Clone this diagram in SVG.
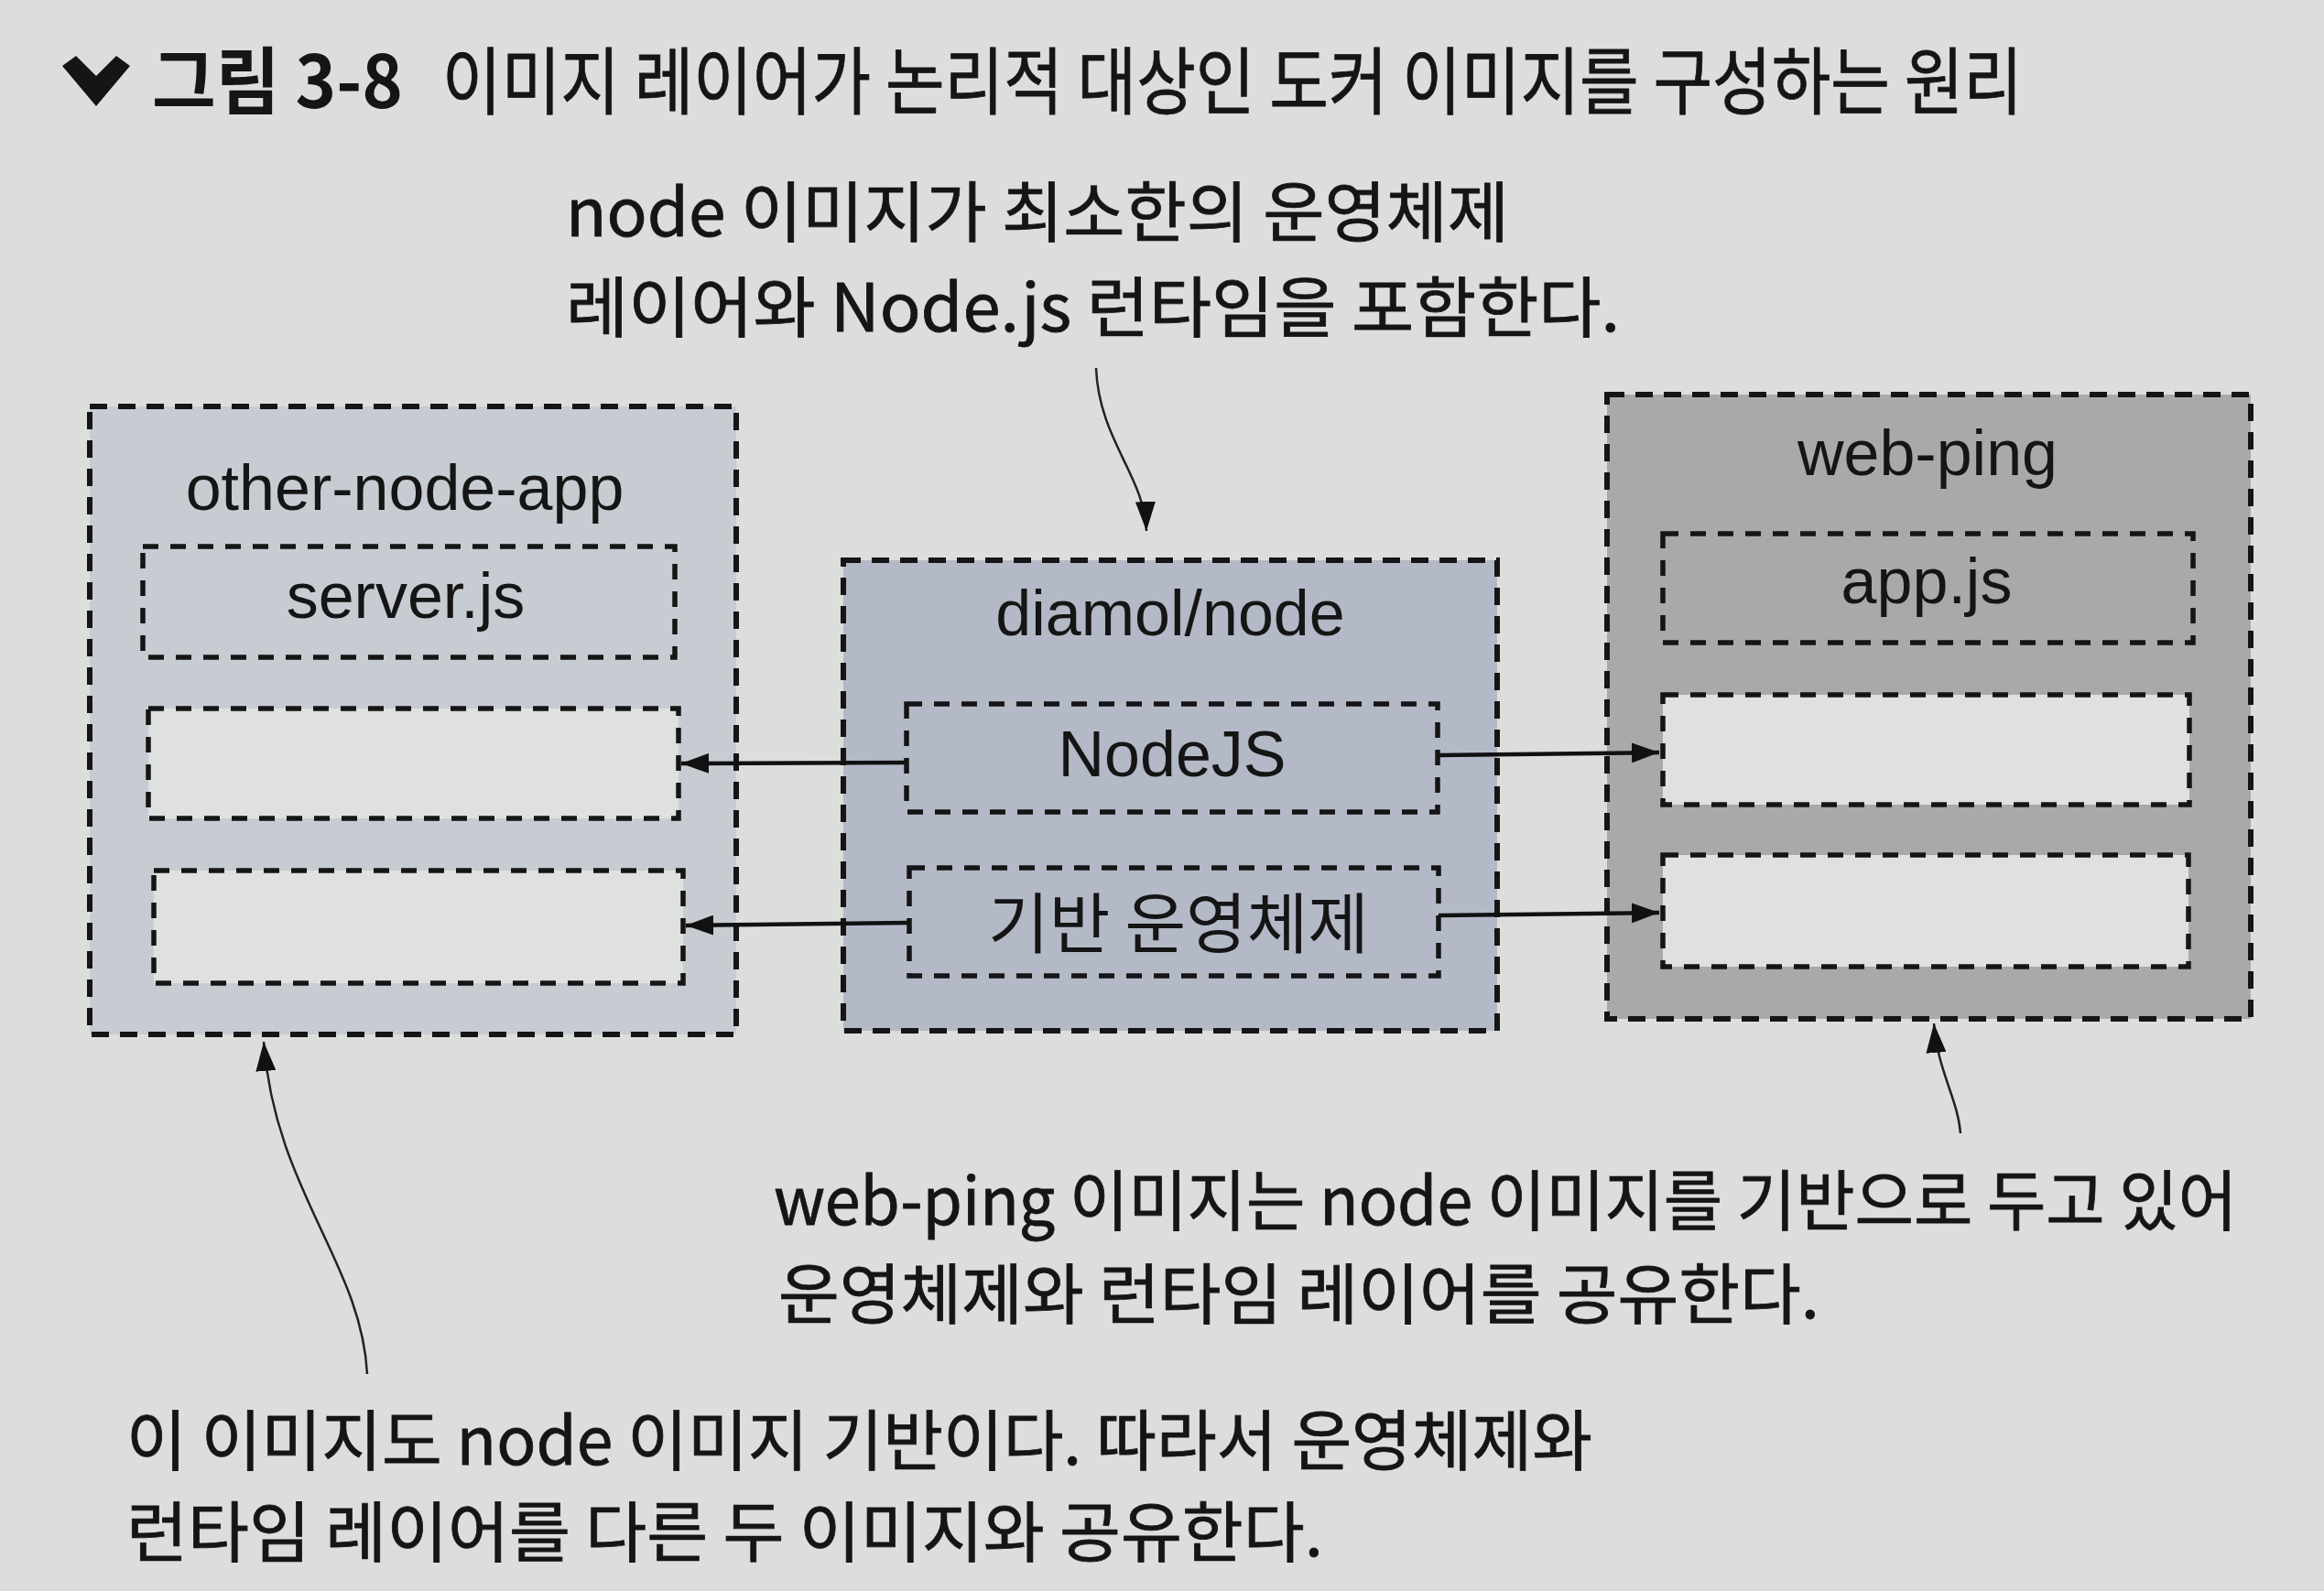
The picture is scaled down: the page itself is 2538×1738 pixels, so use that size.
<svg xmlns="http://www.w3.org/2000/svg" width="2538" height="1738" viewBox="0 0 2538 1738">
  <defs>
    <style>
      .lbl { font-family: "Liberation Sans", Arial, sans-serif; font-size: 70px; fill: #151515; text-anchor: middle; }
      .kr { font-family: "Noto Sans CJK KR", sans-serif; fill: #151515; font-weight: normal; stroke: #151515; stroke-width: 0.8; }
      .krb { font-family: "Noto Sans CJK KR", sans-serif; fill: #151515; font-weight: bold; }
      .box { stroke: #151515; stroke-width: 6; stroke-dasharray: 19 12; }
      .inner { stroke: #151515; stroke-width: 5.5; stroke-dasharray: 17 13; }
      .blank { fill: #dfe1e0; }
      .conn { stroke: #111; stroke-width: 4.5; fill: none; }
      .call { stroke: #222; stroke-width: 2.5; fill: none; }
    </style>
    <marker id="ah" viewBox="0 0 30 22" refX="30" refY="11" markerWidth="30" markerHeight="22" markerUnits="userSpaceOnUse" orient="auto">
      <path d="M0,0 L30,11 L0,22 Z" fill="#111"/>
    </marker>
    <marker id="ahs" viewBox="0 0 32 22" refX="32" refY="11" markerWidth="32" markerHeight="22" markerUnits="userSpaceOnUse" orient="auto">
      <path d="M0,0 L32,11 L0,22 Z" fill="#111"/>
    </marker>
  </defs>

  <rect x="0" y="0" width="2538" height="1738" fill="#dcdedc"/>

  <!-- title -->
  <g id="title">
    <polygon points="68,72 83,61 105,83 127,61 142,72 105,116" fill="#151515"/>
    <text class="krb" x="166" y="118" font-size="80" textLength="274" lengthAdjust="spacingAndGlyphs">그림 3-8</text>
    <text class="kr" x="483" y="118" font-size="80" textLength="1726" lengthAdjust="spacingAndGlyphs">이미지 레이어가 논리적 대상인 도커 이미지를 구성하는 원리</text>
  </g>

  <!-- callouts -->
  <g id="callout-top">
    <text class="kr" x="618" y="258" font-size="72" textLength="1030" lengthAdjust="spacingAndGlyphs">node 이미지가 최소한의 운영체제</text>
    <text class="kr" x="618" y="362" font-size="72" textLength="1151" lengthAdjust="spacingAndGlyphs">레이어와 Node.js 런타임을 포함한다.</text>
  </g>
  <g id="callout-right">
    <text class="kr" x="845" y="1338" font-size="72" textLength="1598" lengthAdjust="spacingAndGlyphs">web-ping 이미지는 node 이미지를 기반으로 두고 있어</text>
    <text class="kr" x="850" y="1440" font-size="72" textLength="1137" lengthAdjust="spacingAndGlyphs">운영체제와 런타임 레이어를 공유한다.</text>
  </g>
  <g id="callout-left">
    <text class="kr" x="138" y="1600" font-size="72" textLength="1601" lengthAdjust="spacingAndGlyphs">이 이미지도 node 이미지 기반이다. 따라서 운영체제와</text>
    <text class="kr" x="138" y="1700" font-size="72" textLength="1307" lengthAdjust="spacingAndGlyphs">런타임 레이어를 다른 두 이미지와 공유한다.</text>
  </g>

  <!-- other-node-app -->
  <g id="other-node-app">
    <rect class="box" x="98" y="444" width="706" height="686" fill="#c7ccd3"/>
    <text class="lbl" x="442" y="557">other-node-app</text>
    <rect class="inner" x="156" y="597" width="581" height="121" fill="#c7ccd3"/>
    <text class="lbl" x="443" y="675">server.js</text>
    <rect class="inner blank" x="162" y="774" width="579" height="120"/>
    <rect class="inner blank" x="168" y="951" width="578" height="123"/>
  </g>

  <!-- diamol/node -->
  <g id="diamol-node">
    <rect class="box" x="921" y="612" width="714" height="514" fill="#b4b9c7"/>
    <text class="lbl" x="1278" y="694">diamol/node</text>
    <rect class="inner" x="990" y="769" width="580" height="118" fill="#b4b9c7"/>
    <text class="lbl" x="1280" y="848">NodeJS</text>
    <rect class="inner" x="993" y="948" width="578" height="118" fill="#b4b9c7"/>
    <text class="kr" x="1079" y="1035" font-size="72" textLength="416" lengthAdjust="spacingAndGlyphs" style="stroke-width:0">기반 운영체제</text>
  </g>

  <!-- web-ping -->
  <g id="web-ping">
    <rect class="box" x="1755" y="431" width="703" height="682" fill="#a8a9ab"/>
    <text class="lbl" x="2105" y="519">web-ping</text>
    <rect class="inner" x="1816" y="583" width="579" height="119" fill="#a8a9ab"/>
    <text class="lbl" x="2104" y="659">app.js</text>
    <rect class="inner blank" x="1816" y="759" width="575" height="120"/>
    <rect class="inner blank" x="1816" y="934" width="574" height="122"/>
  </g>

  <!-- connectors -->
  <g id="connectors">
    <line class="conn" x1="990" y1="833" x2="744" y2="834" marker-end="url(#ah)"/>
    <line class="conn" x1="993" y1="1008" x2="749" y2="1011" marker-end="url(#ah)"/>
    <line class="conn" x1="1570" y1="825" x2="1812" y2="822" marker-end="url(#ah)"/>
    <line class="conn" x1="1571" y1="1000" x2="1812" y2="997" marker-end="url(#ah)"/>
    <path class="call" d="M1197,402 C1200,480 1250,520 1252,580" marker-end="url(#ahs)"/>
    <path class="call" d="M401,1501 C395,1380 300,1300 288,1138" marker-end="url(#ahs)"/>
    <path class="call" d="M2141,1238 C2138,1200 2116,1170 2112,1118" marker-end="url(#ahs)"/>
  </g>
</svg>
